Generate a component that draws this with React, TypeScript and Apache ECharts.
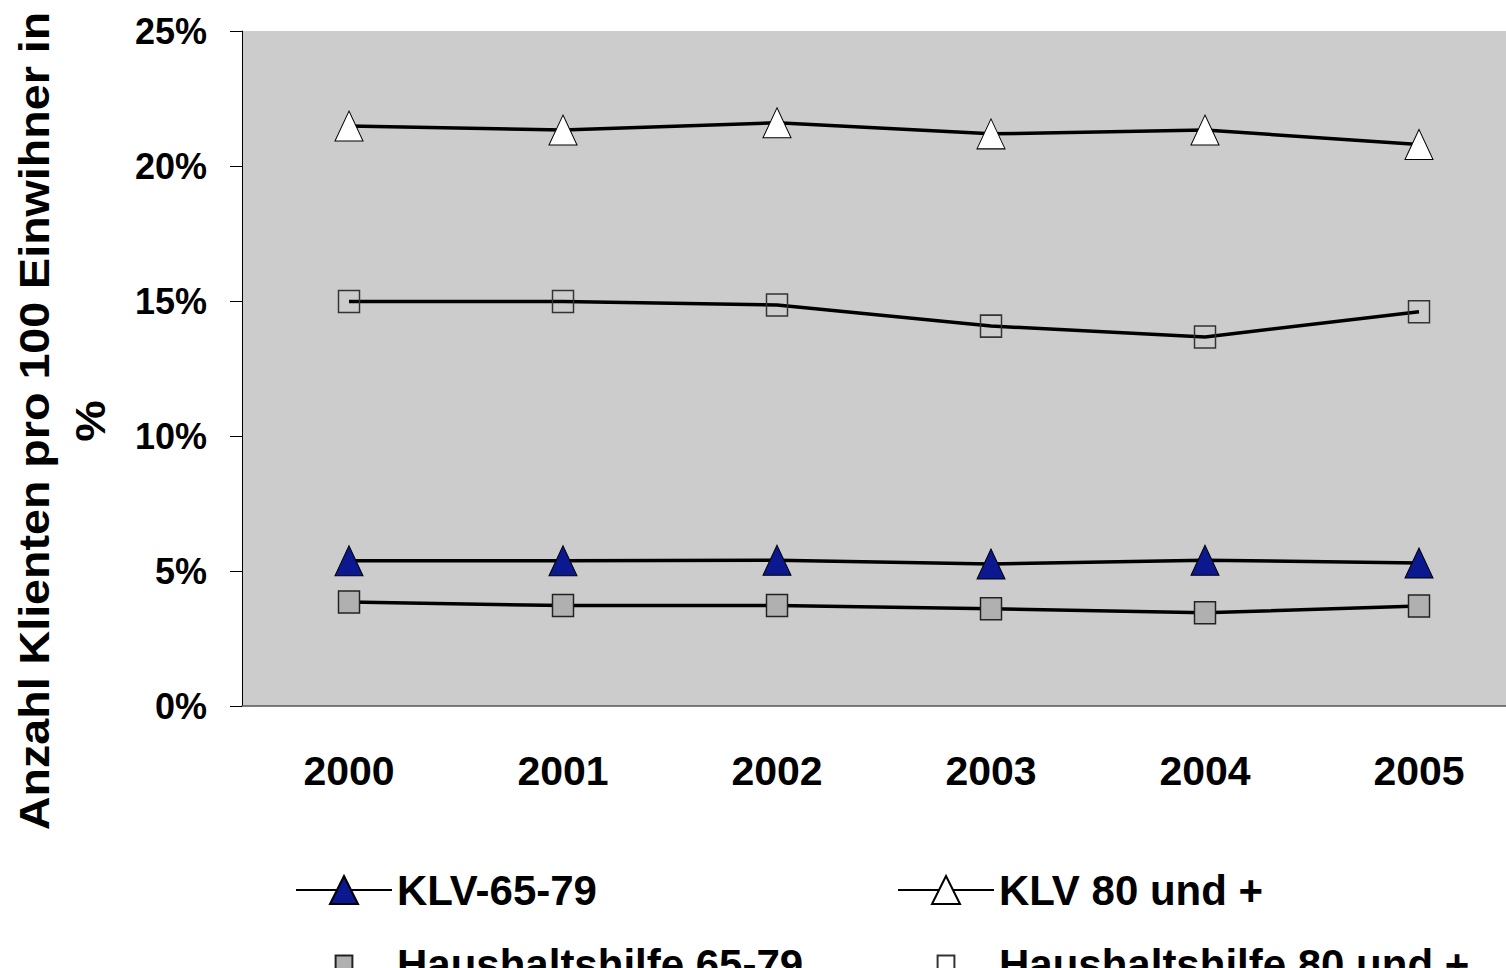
import React, { useEffect, useRef } from "react";
import * as echarts from "echarts";

const years = ["2000", "2001", "2002", "2003", "2004", "2005"];
const klv6579 = [5.38, 5.38, 5.4, 5.26, 5.4, 5.3];
const klv80 = [21.48, 21.33, 21.6, 21.19, 21.33, 20.8];
const hh6579 = [3.85, 3.72, 3.72, 3.6, 3.45, 3.7];
const hh80 = [14.98, 14.98, 14.85, 14.07, 13.67, 14.6];
const yTicks = { min: 0, max: 25, interval: 5 };
const yName = "Anzahl Klienten pro 100 Einwihner in\n%";

const FONT = "'Liberation Sans', Arial, sans-serif";

export default function App() {
  const ref = useRef<HTMLDivElement>(null);
  useEffect(() => {
    if (!ref.current) return;
    const chart = echarts.init(ref.current, null, { renderer: "svg" });
    const legendText = { fontSize: 42, fontWeight: "bold", fontFamily: FONT, color: "#000" };
    const lineStyle = { color: "#000", width: 3.5 };
    chart.setOption({
      animation: false,
      backgroundColor: "#fff",
      grid: {
        left: 242,
        top: 31,
        width: 1284,
        height: 675,
        show: true,
        backgroundColor: "#cccccc",
        borderWidth: 0,
      },
      xAxis: {
        type: "category",
        data: years,
        boundaryGap: true,
        axisLine: { lineStyle: { color: "#555", width: 1.5 } },
        axisTick: { show: false },
        axisLabel: { margin: 44, fontSize: 41, fontWeight: "bold", fontFamily: FONT, color: "#000" },
        splitLine: { show: false },
      },
      yAxis: {
        type: "value",
        min: yTicks.min,
        max: yTicks.max,
        interval: yTicks.interval,
        axisLine: { show: true, lineStyle: { color: "#000", width: 1 } },
        axisTick: { show: true, length: 12, lineStyle: { color: "#000" } },
        axisLabel: {
          margin: 35,
          fontSize: 36,
          fontWeight: "bold",
          fontFamily: FONT,
          color: "#000",
          formatter: "{value}%",
        },
        splitLine: { show: false },
      },
      graphic: [
        {
          type: "text",
          x: 62,
          y: 421,
          rotation: Math.PI / 2,
          scaleX: 1.11,
          style: {
            text: yName,
            fontSize: 42,
            fontWeight: "bold",
            fontFamily: FONT,
            fill: "#000",
            lineHeight: 56,
            align: "center",
            verticalAlign: "middle",
            textAlign: "center",
            textVerticalAlign: "middle",
          },
        },
      ],
      legend: [
        {
          data: ["KLV-65-79"],
          left: 290,
          top: 864,
          itemWidth: 96,
          itemHeight: 35,
          textStyle: legendText,
        },
        {
          data: ["KLV 80 und +"],
          left: 892,
          top: 864,
          itemWidth: 96,
          itemHeight: 35,
          textStyle: legendText,
        },
        {
          data: ["Haushaltshilfe 65-79"],
          left: 290,
          top: 938,
          itemWidth: 96,
          itemHeight: 21,
          lineStyle: { opacity: 0 },
          textStyle: legendText,
        },
        {
          data: ["Haushaltshilfe 80 und +"],
          left: 892,
          top: 938,
          itemWidth: 96,
          itemHeight: 21,
          lineStyle: { opacity: 0 },
          textStyle: legendText,
        },
      ],
      series: [
        {
          name: "KLV-65-79",
          type: "line",
          data: klv6579,
          symbol: "triangle",
          symbolSize: [28, 30],
          lineStyle,
          itemStyle: { color: "#0c1890", borderColor: "#000", borderWidth: 1 },
          z: 3,
        },
        {
          name: "KLV 80 und +",
          type: "line",
          data: klv80,
          symbol: "triangle",
          symbolSize: [28, 30],
          lineStyle,
          itemStyle: { color: "#ffffff", borderColor: "#000", borderWidth: 1 },
          z: 3,
        },
        {
          name: "Haushaltshilfe 65-79",
          type: "line",
          data: hh6579,
          symbol: "rect",
          symbolSize: [21, 22],
          lineStyle,
          itemStyle: { color: "#b0b0b0", borderColor: "#222", borderWidth: 1.5 },
          z: 2,
        },
        {
          name: "Haushaltshilfe 80 und +",
          type: "line",
          data: hh80,
          symbol: "rect",
          symbolSize: [21, 22],
          lineStyle,
          itemStyle: { color: "rgba(0,0,0,0)", borderColor: "#333", borderWidth: 1.5 },
          z: 2,
        },
      ],
    });
    return () => chart.dispose();
  }, []);
  return (
    <div
      ref={ref}
      style={{ position: "fixed", left: 0, top: 0, width: 1540, height: 968 }}
    />
  );
}
